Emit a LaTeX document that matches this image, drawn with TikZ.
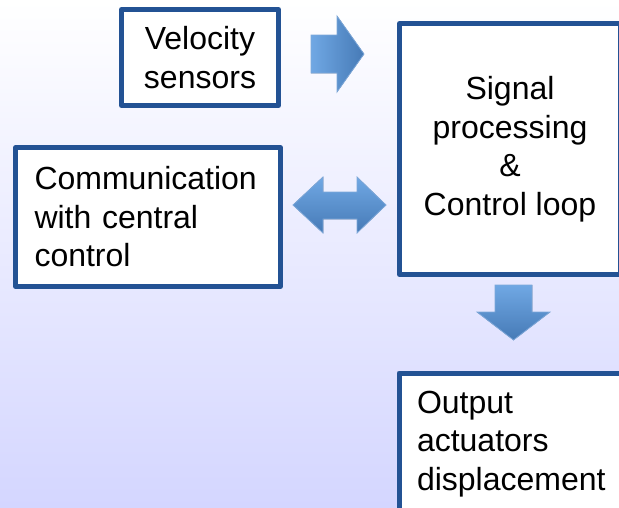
\documentclass[tikz,border=0pt]{standalone}
\usepackage{fontspec}
\setmainfont{Liberation Sans}
\definecolor{boxblue}{RGB}{35,82,148}
\definecolor{arlight}{RGB}{112,168,228}
\definecolor{ardark}{RGB}{70,122,182}
\definecolor{arline}{RGB}{125,168,218}
\definecolor{bgbottom}{RGB}{212,214,255}
\tikzset{
  blockbox/.style={draw=boxblue, line width=5pt, fill=white, rectangle, line join=round,
    font=\fontsize{32}{38.5}\selectfont},
  harrow/.style={left color=arlight, right color=ardark, draw=arline, line width=0.8pt},
  varrow/.style={top color=arlight, bottom color=ardark, draw=arline, line width=0.8pt}
}
\begin{document}
\begin{tikzpicture}[x=1pt, y=-1pt]
\useasboundingbox (0,0) rectangle (619,507);
\clip (0,0) rectangle (619,507);
\fill[top color=white, bottom color=bgbottom] (0,0) rectangle (619,507);

% boxes
\node[blockbox, minimum width=157pt, minimum height=96pt, inner sep=0pt, align=center]
  (vel) at (200,57.5) {Velocity\\sensors};
\node[blockbox, minimum width=221pt, minimum height=251pt, inner sep=0pt, align=center]
  (sig) at (510,149) {Signal\\processing\\\&\\Control loop};
\node[blockbox, minimum height=135pt, inner sep=19pt, text width=227pt, align=left]
  (com) at (148,217) {Communication\\with central\\control};
\node[blockbox, minimum height=136pt, inner sep=18pt, text width=200pt, align=left, anchor=north west]
  (out) at (396.5,370.5) {Output\\actuators\\displacement};

% block arrows
\filldraw[harrow] (311,35) -- (337,35) -- (337,16) -- (364,54) -- (337,92) -- (337,73) -- (311,73) -- cycle;
\filldraw[varrow] (293,205) -- (323,177) -- (323,192) -- (357,192) -- (357,177) -- (386,205)
  -- (357,233) -- (357,219) -- (323,219) -- (323,233) -- cycle;
\filldraw[varrow] (495,285) -- (532,285) -- (532,312) -- (550,312) -- (513.5,340) -- (477,312) -- (495,312) -- cycle;
\end{tikzpicture}
\end{document}
